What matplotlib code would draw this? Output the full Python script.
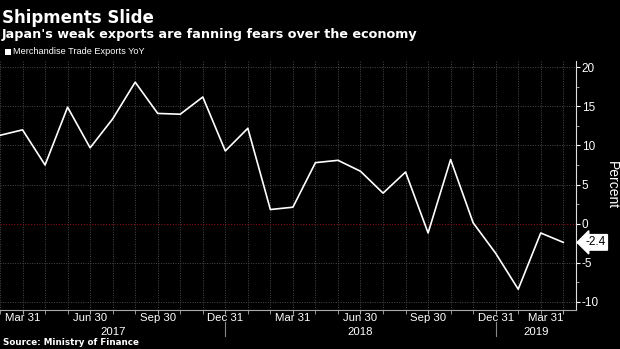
import matplotlib
matplotlib.use("Agg")
import matplotlib.pyplot as plt
import matplotlib.transforms as mtransforms

# Data: Japan merchandise exports YoY (%), Feb 2017 .. Mar 2019
months = ["2017-02", "2017-03", "2017-04", "2017-05", "2017-06", "2017-07", "2017-08",
          "2017-09", "2017-10", "2017-11", "2017-12", "2018-01", "2018-02", "2018-03",
          "2018-04", "2018-05", "2018-06", "2018-07", "2018-08", "2018-09", "2018-10",
          "2018-11", "2018-12", "2019-01", "2019-02", "2019-03"]
exports_yoy = [11.3, 12.0, 7.5, 14.9, 9.7, 13.4, 18.1, 14.1, 14.0, 16.2, 9.3, 12.2,
               1.8, 2.1, 7.8, 8.1, 6.7, 3.9, 6.6, -1.2, 8.2, 0.1, -3.8, -8.4, -1.2, -2.4]
tick_months = ["2017-03", "2017-06", "2017-09", "2017-12", "2018-03", "2018-06",
               "2018-09", "2018-12", "2019-03"]
tick_labels = ["Mar 31", "Jun 30", "Sep 30", "Dec 31", "Mar 31", "Jun 30",
               "Sep 30", "Dec 31", "Mar 31"]
years = ["2017", "2018", "2019"]
y_ticks = [-10, -5, 0, 5, 10, 15, 20]

FONT = "Liberation Sans"
BOLD = "DejaVu Sans"

x = list(range(len(months)))
xt = [months.index(m) for m in tick_months]

fig = plt.figure(figsize=(6.2, 3.49), dpi=100, facecolor="black")
ax = fig.add_axes([0.0, 0.1117, 0.9285, 0.7135])
ax.set_facecolor("black")

ax.set_xlim(0, 25.55)
ax.set_ylim(-11.06, 20.81)

# gridlines
for m in x:
    ax.axvline(m, color="#4a4a4a", lw=0.7, ls=(0, (1, 1.5)), zorder=1)
for v in y_ticks:
    if v == 0:
        ax.axhline(v, color="#8b1010", lw=0.8, ls=(0, (1, 1.5)), zorder=1)
    else:
        ax.axhline(v, color="#4a4a4a", lw=0.7, ls=(0, (1, 1.5)), zorder=1)

ax.plot(x, exports_yoy, color="white", lw=1.2, zorder=3)

# spines
for s in ["left", "top"]:
    ax.spines[s].set_visible(False)
ax.spines["bottom"].set_color("#aaaaaa")
ax.spines["right"].set_color("#dddddd")

# y axis on right
ax.yaxis.tick_right()
ax.set_yticks(y_ticks)
ax.set_yticklabels([str(v) for v in y_ticks], fontfamily=FONT, fontsize=8.5, color="white")
ax.set_yticks([v + 2.5 for v in y_ticks[:-1]], minor=True)
ax.tick_params(axis="y", which="major", length=3, color="white", pad=1.5, right=True, left=False)
ax.tick_params(axis="y", which="minor", length=2, color="#bbbbbb", right=True, left=False)
ax.yaxis.set_label_position("right")
ax.set_ylabel("Percent", rotation=270, fontfamily=FONT, fontsize=10, color="white", labelpad=14)

# x axis
ax.set_xticks(xt)
ax.set_xticklabels(tick_labels, fontfamily=FONT, fontsize=8.2, color="white")
ax.set_xticks(x, minor=True)
ax.tick_params(axis="x", which="major", length=3, color="#aaaaaa", pad=-0.5)
ax.tick_params(axis="x", which="minor", length=3, color="#aaaaaa")
ax.get_xticklabels()[-1].set_horizontalalignment("right")
ax.get_xticklabels()[-1].set_x(xt[-1] + 0.17)

# year labels and separators
trans = mtransforms.blended_transform_factory(ax.transData, ax.transAxes)
dec17 = months.index("2017-12")
dec18 = months.index("2018-12")
for sep in [dec17, dec18]:
    ax.plot([sep, sep], [-0.047, -0.103], color="#888888", lw=0.8,
            transform=trans, clip_on=False)
year_centers = [dec17 / 2, (dec17 + dec18) / 2, (dec18 + 25.55) / 2]
for yr, xc in zip(years, year_centers):
    ax.text(xc, -0.089, yr, transform=trans, ha="center", va="center",
            fontfamily=FONT, fontsize=8.2, color="white")

# last value label
ax.annotate(f"{exports_yoy[-1]:.1f}", xy=(1.0, exports_yoy[-1]),
            xycoords=("axes fraction", "data"), xytext=(7, 0), textcoords="offset points",
            ha="left", va="center", fontfamily=FONT, fontsize=8.5, color="black",
            bbox=dict(boxstyle="larrow,pad=0.15", fc="white", ec="white"),
            annotation_clip=False)

# titles
fig.text(0.003, 0.974, "Shipments Slide", fontfamily=BOLD, fontweight="bold",
         fontsize=12, color="white", va="top", ha="left")
fig.text(0.003, 0.920, "Japan's weak exports are fanning fears over the economy",
         fontfamily=BOLD, fontweight="bold", fontsize=9.2, color="white", va="top", ha="left")
fig.patches.append(plt.Rectangle((5 / 620, 1 - 54.5 / 349), 6 / 620, 5.5 / 349,
                                 transform=fig.transFigure, fc="white", ec="none"))
fig.text(13 / 620, 1 - 52 / 349, "Merchandise Trade Exports YoY", fontfamily=FONT,
         fontsize=6.6, color="white", va="center", ha="left")
fig.text(0.005, 1 - 342.5 / 349, "Source: Ministry of Finance", fontfamily=BOLD,
         fontweight="bold", fontsize=6.3, color="white", va="center", ha="left")

fig.savefig("out.png", dpi=100, facecolor="black")
